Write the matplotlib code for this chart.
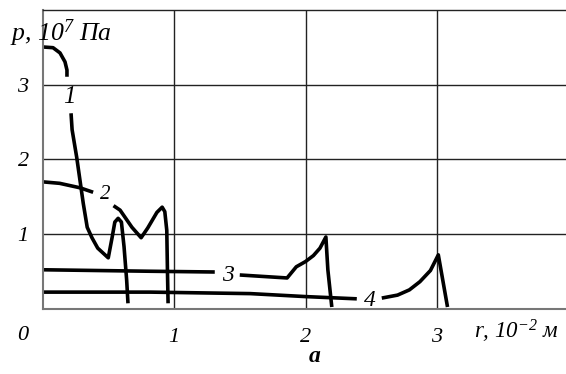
import numpy as np
import matplotlib
matplotlib.use("Agg")
import matplotlib.pyplot as plt

plt.rcParams['font.family'] = ['Liberation Serif', 'DejaVu Serif']
plt.rcParams['mathtext.fontset'] = 'custom'
plt.rcParams['mathtext.rm'] = 'Liberation Serif:italic'
plt.rcParams['mathtext.it'] = 'Liberation Serif:italic'

nan = np.nan
# curve 1
r1 = [0.0, 0.08, 0.133, 0.171, 0.186, 0.186, nan,
      0.217, 0.225, 0.26, 0.285, 0.31, 0.34, 0.376, 0.42, 0.50, 0.53, 0.55, 0.575, 0.60, 0.62, 0.64, 0.65]
p1 = [3.51, 3.50, 3.43, 3.31, 3.20, 3.11, nan,
      2.62, 2.40, 2.03, 1.72, 1.41, 1.09, 0.95, 0.81, 0.68, 0.96, 1.16, 1.21, 1.16, 0.83, 0.38, 0.07]
# curve 2
r2 = [0.0, 0.13, 0.285, 0.385, nan,
      0.54, 0.59, 0.68, 0.75, 0.80, 0.87, 0.91, 0.93, 0.945, 0.95, 0.955]
p2 = [1.70, 1.68, 1.62, 1.56, nan,
      1.38, 1.32, 1.09, 0.95, 1.08, 1.29, 1.36, 1.30, 1.05, 0.52, 0.07]
# curve 3
r3 = [0.0, 0.82, 1.31, nan, 1.50, 1.86, 1.93, 2.0, 2.06, 2.11, 2.155, 2.17, 2.20]
p3 = [0.52, 0.50, 0.49, nan, 0.45, 0.41, 0.56, 0.63, 0.71, 0.81, 0.96, 0.52, 0.02]
# curve 4
r4 = [0.0, 0.82, 1.58, 2.0, 2.39, nan, 2.58, 2.70, 2.79, 2.87, 2.95, 3.01, 3.04, 3.08]
p4 = [0.22, 0.22, 0.20, 0.16, 0.13, nan, 0.14, 0.18, 0.25, 0.36, 0.51, 0.72, 0.42, 0.02]

curve_labels = ['1', '2', '3', '4']
label_r = [0.205, 0.475, 1.41, 2.49]
label_p = [2.84, 1.53, 0.44, 0.11]
label_size = [18, 15, 17, 17]

xticks = [1, 2, 3]
xticklabels = ['1', '2', '3']
yticks = [1, 2, 3]
yticklabels = ['1', '2', '3']

fig = plt.figure(figsize=(5.66, 3.74), dpi=100)
ax = fig.add_axes([0.0751, 0.1751, 1 - 0.0751, 0.797])
ax.set_xlim(0, 3.981)
ax.set_ylim(0, 4)

ax.grid(True, color='#222222', linewidth=1.0)
ax.set_axisbelow(True)
ax.spines['right'].set_visible(False)
ax.spines['top'].set_color('#222222')
ax.spines['top'].set_linewidth(1.0)
for s in ['left', 'bottom']:
    ax.spines[s].set_color('#777777')
    ax.spines[s].set_linewidth(1.5)

for r, p in [(r1, p1), (r2, p2), (r3, p3), (r4, p4)]:
    ax.plot(r, p, color='black', linewidth=2.6, solid_joinstyle='round', solid_capstyle='butt')

for t, x, y, fs in zip(curve_labels, label_r, label_p, label_size):
    ax.text(x, y, t, fontsize=fs, style='italic', ha='center', va='center')

ax.set_xticks(xticks)
ax.set_xticklabels(xticklabels, fontsize=16, style='italic')
ax.set_yticks(yticks)
ax.set_yticklabels(yticklabels, fontsize=16, style='italic')
ax.tick_params(length=0)
ax.tick_params(axis='x', pad=14)
ax.tick_params(axis='y', pad=10)

fig.text(23 / 566, 1 - 336 / 374, '0', fontsize=16, style='italic', ha='center', va='center')
fig.text(10 / 566, 1 - 33 / 374, 'p, 10$^{7}$ Па', fontsize=18.5, style='italic', ha='left', va='center')
fig.text(474 / 566, 1 - 331 / 374, 'r, 10$^{-2}$ м', fontsize=16.5, style='italic', ha='left', va='center')
fig.text(315 / 566, 1 - 357 / 374, 'a', fontsize=17, style='italic', weight='bold', ha='center', va='center')

fig.savefig('out.png', dpi=100)
